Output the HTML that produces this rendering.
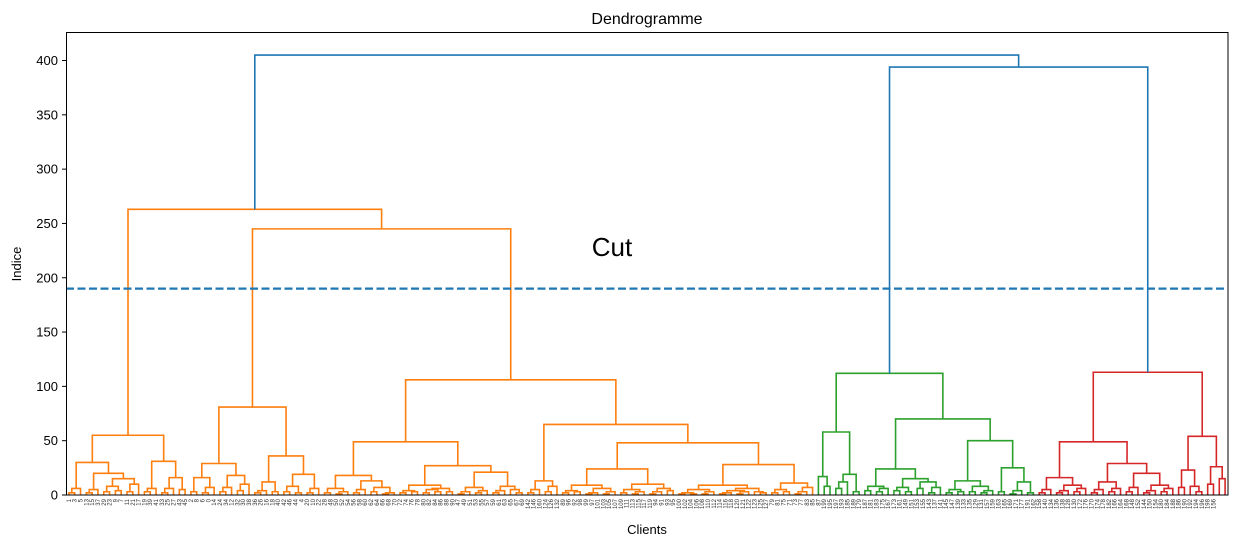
<!DOCTYPE html>
<html><head><meta charset="utf-8"><style>
html,body{margin:0;padding:0;background:#fff;}
svg{display:block;font-family:"Liberation Sans","DejaVu Sans",sans-serif;}
</style></head><body>
<svg id="chart" width="1238" height="547" viewBox="0 0 1238 547">
<text x="647" y="24" font-size="16" text-anchor="middle" fill="#000">Dendrogramme</text>
<text x="647" y="534" font-size="13" text-anchor="middle" fill="#000">Clients</text>
<text x="21" y="264" font-size="13" text-anchor="middle" fill="#000" transform="rotate(-90 21 264)">Indice</text>
<g id="links"></g>
<g id="yaxis"></g>
<g id="xlabels"></g>
<line id="cutline" x1="66" x2="1228" stroke="#1f77b4" stroke-width="2.2" stroke-dasharray="8,3.5"/>
<text x="612" y="256" font-size="26" text-anchor="middle" fill="#000">Cut</text>
<rect x="66.5" y="32.5" width="1161.5" height="462.5" fill="none" stroke="#000" stroke-width="1"/>
</svg>
<script>
// --- data ---
const yTicks = [0, 50, 100, 150, 200, 250, 300, 350, 400];
const cutHeight = 190;
const colorThreshold = 283;
const clusterColors = ["#ff7f0e", "#2ca02c", "#d62728"];
// tree nodes: [height, left, right]; leaf = 0
const orangeA = [55,
  [30, [6,[2,0,0],0], [20,[5,[2,0,0],0],[15,[8,[3,0,0],[4,0,0]],[10,[3,0,0],0]]]],
  [31, [6,[3,0,0],0], [16,[6,[2,0,0],0],[5,0,0]]]];
const orangeBL = [81,
  [29,[16,[3,0,0],[7,[2,0,0],0]],[18,[7,[3,0,0],0],[10,[4,0,0],0]]],
  [36,[12,[4,[2,0,0],0],[3,0,0]],[19,[8,[3,0,0],[2,0,0]],[6,[2,0,0],0]]]];
const orangeC = [49,
  [18,[6,[2,0,0],[3,[1,0,0],0]],[13,[5,[2,0,0],0],[7,[3,0,0],[2,[1,0,0],0]]]],
  [27,[9,[4,[2,0,0],[3,0,0]],[6,[5,[2,0,0],[3,0,0]],[3,0,0]]],[21,[7,[3,[1,0,0],0],[4,[2,0,0],0]],[8,[4,[2,0,0],0],[5,0,[2,0,0]]]]]];
const orangeD = [65,
  [13,[5,[2,0,0],0],[8,[3,0,0],0]],
  [48,
    [24,[9,[4,[2,0,0],[3,0,0]],[6,[2,[1,0,0],0],[3,[1,0,0],0]]],[10,[5,[2,0,0],[3,[1,0,0],0]],[6,[3,[1,0,0],0],[4,0,0]]]],
    [28,
      [9,[5,[2,[1,0,0],[1,0,0]],[3,[1,0,0],0]],[6,[4,[2,[1,0,0],0],[3,[1,0,0],0]],[3,0,[2,0,0]]]],
      [11,[5,[2,0,0],[3,0,0]],[7,[3,[1,0,0],0],0]]]]];
const orangeTree = [263, orangeA, [245, orangeBL, [106, orangeC, orangeD]]];
const greenTree = [112,
  [58,[17,0,[8,0,0]],[19,[12,[6,0,0],0],[3,0,0]]],
  [70,
    [24,[8,[4,0,0],[6,[3,0,0],0]],[15,[7,[4,0,0],[3,0,0]],[12,[6,0,0],[7,[2,0,0],0]]]],
    [50,[13,[5,[2,0,0],[3,0,0]],[8,[3,0,0],[4,[2,0,0],0]]],[25,[3,0,0],[12,[4,[1,0,0],0],[2,0,0]]]]]];
const redTree = [113,
  [49,
    [16,[5,[2,0,0],0],[9,[4,[2,0,0],0],[6,[3,0,0],0]]],
    [29,[12,[5,[2,0,0],0],[6,[3,0,0],0]],[20,[7,[3,0,0],0],[9,[4,[2,0,0],0],[6,[3,0,0],0]]]]],
  [54,[23,[7,0,0],[8,0,[3,0,0]]],[26,[10,0,0],[15,0,0]]]];
const rootTree = [405, orangeTree, [394, greenTree, redTree]];
const leafLabels = ("1 3 5 13 15 37 29 23 9 7 11 21 17 19 39 41 33 25 27 43 45 2 8 6 0 14 24 34 12 32 30 38 36 26 16 18 40 42 46 44 4 20 10 22 " +
 "28 48 50 52 54 56 58 60 62 64 66 68 70 72 74 76 78 80 82 84 86 88 90 47 49 51 53 55 57 59 61 63 65 67 69 " +
 "142 146 160 124 126 132 89 96 92 98 99 97 101 103 105 107 109 111 113 115 117 119 94 91 93 95 100 102 104 106 108 110 112 114 116 118 120 121 122 123 125 127 79 81 75 71 73 77 83 85 87 " +
 "199 195 197 193 185 189 179 187 181 183 175 167 173 161 149 151 153 155 143 137 141 145 147 139 133 135 129 131 157 159 163 165 169 171 177 191 " +
 "162 158 140 134 136 138 128 130 172 176 170 174 178 182 166 164 168 148 152 144 150 154 180 184 188 186 190 192 194 196 198 156").split(" ");

// --- scales ---
const X0 = 66, X1 = 1228, Y0 = 495, Yp400 = 60.5;
const nLeaves = 200;
const xScale = i => X0 + (X1 - X0) * (i + 0.5) / nLeaves;
const yScale = v => Y0 + (Yp400 - Y0) * v / 400;
const NS = "http://www.w3.org/2000/svg";
const links = document.getElementById("links");
let leafCounter = 0;

function layout(node, color) {
  if (!Array.isArray(node)) {
    const x = xScale(leafCounter++);
    return {x: x, h: 0};
  }
  const l = layout(node[1], color);
  const r = layout(node[2], color);
  const h = node[0];
  const path = document.createElementNS(NS, "path");
  path.setAttribute("d", "M" + l.x + "," + yScale(l.h) + "V" + yScale(h) + "H" + r.x + "V" + yScale(r.h));
  path.setAttribute("fill", "none");
  path.setAttribute("stroke", h > colorThreshold ? "#1f77b4" : color);
  path.setAttribute("stroke-width", "1.6");
  
  
  links.appendChild(path);
  return {x: (l.x + r.x) / 2, h: h};
}
function layoutRoot() {
  const o = layout(orangeTree, clusterColors[0]);
  const g = layout(greenTree, clusterColors[1]);
  const r = layout(redTree, clusterColors[2]);
  const rr = {x: (g.x + r.x) / 2, h: rootTree[2][0]};
  [[g, r, rr.h], [o, rr, rootTree[0]]].forEach(function (p) {
    const path = document.createElementNS(NS, "path");
    path.setAttribute("d", "M" + p[0].x + "," + yScale(p[0].h) + "V" + yScale(p[2]) + "H" + p[1].x + "V" + yScale(p[1].h));
    path.setAttribute("fill", "none");
    path.setAttribute("stroke", "#1f77b4");
    path.setAttribute("stroke-width", "1.6");
    
    
    links.appendChild(path);
  });
}
layoutRoot();

// y axis
const yaxis = document.getElementById("yaxis");
yTicks.forEach(function (t) {
  const y = yScale(t);
  const ln = document.createElementNS(NS, "line");
  ln.setAttribute("x1", 62); ln.setAttribute("x2", 66);
  ln.setAttribute("y1", y); ln.setAttribute("y2", y);
  ln.setAttribute("stroke", "#000");
  
  
  yaxis.appendChild(ln);
  const tx = document.createElementNS(NS, "text");
  tx.setAttribute("x", 58); tx.setAttribute("y", y + 4.5);
  tx.setAttribute("font-size", "13"); tx.setAttribute("text-anchor", "end");
  tx.textContent = t;
  
  
  yaxis.appendChild(tx);
});
// leaf labels
const xl = document.getElementById("xlabels");
leafLabels.forEach(function (lab, i) {
  const x = xScale(i);
  const tx = document.createElementNS(NS, "text");
  tx.setAttribute("x", x + 2); tx.setAttribute("y", 499);
  tx.setAttribute("font-size", "6"); tx.setAttribute("text-anchor", "end");
  tx.setAttribute("fill", "#333");
  tx.setAttribute("transform", "rotate(-90 " + (x + 2) + " 499)");
  tx.textContent = lab;
  
  
  xl.appendChild(tx);
});
// cut line
const cl = document.getElementById("cutline");
cl.setAttribute("y1", yScale(cutHeight));
cl.setAttribute("y2", yScale(cutHeight));
</script>
</body></html>
